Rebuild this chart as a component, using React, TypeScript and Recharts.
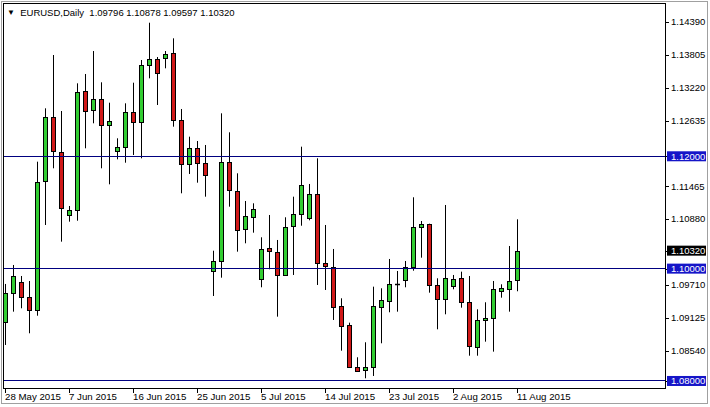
import { ComposedChart, Bar, XAxis, YAxis, ReferenceLine } from 'recharts'

const dates = [
  '28 May 2015', '29 May 2015', '31 May 2015', '1 Jun 2015', '2 Jun 2015', '3 Jun 2015', '4 Jun 2015', '5 Jun 2015',
  '7 Jun 2015', '8 Jun 2015', '9 Jun 2015', '10 Jun 2015', '11 Jun 2015', '12 Jun 2015', '14 Jun 2015', '15 Jun 2015',
  '16 Jun 2015', '17 Jun 2015', '18 Jun 2015', '19 Jun 2015', '21 Jun 2015', '22 Jun 2015', '23 Jun 2015', '24 Jun 2015',
  '25 Jun 2015', '26 Jun 2015', '28 Jun 2015', '29 Jun 2015', '30 Jun 2015', '1 Jul 2015', '2 Jul 2015', '3 Jul 2015',
  '5 Jul 2015', '6 Jul 2015', '7 Jul 2015', '8 Jul 2015', '9 Jul 2015', '10 Jul 2015', '12 Jul 2015', '13 Jul 2015',
  '14 Jul 2015', '15 Jul 2015', '16 Jul 2015', '17 Jul 2015', '19 Jul 2015', '20 Jul 2015', '21 Jul 2015', '22 Jul 2015',
  '23 Jul 2015', '24 Jul 2015', '26 Jul 2015', '27 Jul 2015', '28 Jul 2015', '29 Jul 2015', '30 Jul 2015', '31 Jul 2015',
  '2 Aug 2015', '3 Aug 2015', '4 Aug 2015', '5 Aug 2015', '6 Aug 2015', '7 Aug 2015', '9 Aug 2015', '10 Aug 2015',
  '11 Aug 2015',
]

const opens = [
  1.09045, 1.09561, 1.09757, 1.0949, 1.09264, 1.11548, 1.12694, 1.12082, 1.10955, 1.11044, 1.13167, 1.12811, 1.13014,
  1.12569, 1.12082, 1.1216, 1.12783, 1.12605, 1.1362, 1.13726, 1.13744, 1.13833, 1.12646, 1.11857, 1.12142, 1.11875,
  1.09963, 1.10124, 1.11893, 1.11387, 1.107, 1.10914, 1.0981, 1.10362, 1.10302, 1.09899, 1.10747, 1.10967, 1.10896,
  1.11329, 1.10106, 1.10035, 1.09335, 1.08997, 1.08255, 1.08183, 1.08244, 1.09323, 1.0943, 1.0973, 1.09798, 1.10024,
  1.10736, 1.10789, 1.09709, 1.09454, 1.09691, 1.09828, 1.09401, 1.08611, 1.09073, 1.09116, 1.09602, 1.0965, 1.09796,
]
const highs = [
  1.09727, 1.10065, 1.09869, 1.0978, 1.11904, 1.12854, 1.13803, 1.12806, 1.11115, 1.13299, 1.13465, 1.13874, 1.13317,
  1.12954, 1.1232, 1.12943, 1.1331, 1.13714, 1.14378, 1.13767, 1.13874, 1.141, 1.12842, 1.12349, 1.12272, 1.12201,
  1.10319, 1.12765, 1.12427, 1.11697, 1.11204, 1.11163, 1.10558, 1.10955, 1.1051, 1.10914, 1.11281, 1.12171, 1.11507,
  1.11964, 1.10777, 1.1035, 1.09472, 1.09038, 1.08422, 1.08689, 1.09679, 1.0965, 1.10172, 1.09958, 1.10136, 1.1127,
  1.10848, 1.108, 1.09828, 1.11133, 1.09887, 1.09946, 1.09869, 1.09276, 1.09401, 1.0978, 1.09721, 1.10403, 1.10878,
]
const lows = [
  1.08641, 1.09234, 1.09294, 1.08849, 1.09162, 1.10777, 1.11786, 1.1048, 1.10836, 1.10853, 1.12142, 1.12587, 1.11786,
  1.11501, 1.11946, 1.11886, 1.12023, 1.11964, 1.13388, 1.12913, 1.13566, 1.12527, 1.11341, 1.11685, 1.1153, 1.11281,
  1.09513, 1.09839, 1.11103, 1.10302, 1.10451, 1.1064, 1.09668, 1.09988, 1.09145, 1.09887, 1.09887, 1.10764, 1.1086,
  1.09709, 1.0962, 1.09086, 1.08539, 1.0824, 1.0817, 1.08048, 1.08089, 1.08671, 1.09223, 1.09234, 1.09668, 1.09963,
  1.10195, 1.09572, 1.0892, 1.09187, 1.09632, 1.09305, 1.0845, 1.0845, 1.087, 1.08522, 1.09483, 1.09234, 1.09597,
]
const closes = [
  1.09561, 1.09869, 1.0949, 1.09264, 1.11548, 1.12694, 1.12082, 1.11092, 1.11044, 1.1315, 1.12811, 1.13014, 1.12557,
  1.12633, 1.1216, 1.12783, 1.12605, 1.1362, 1.13726, 1.13477, 1.13821, 1.12646, 1.11857, 1.12142, 1.11875, 1.11654,
  1.10136, 1.11893, 1.11387, 1.107, 1.10937, 1.11056, 1.10344, 1.10302, 1.09899, 1.10747, 1.10967, 1.11489, 1.11329,
  1.10095, 1.10047, 1.09323, 1.08984, 1.08255, 1.08183, 1.08244, 1.09335, 1.09442, 1.09727, 1.0973, 1.10024, 1.10736,
  1.10789, 1.09709, 1.09454, 1.09828, 1.0981, 1.09401, 1.08611, 1.09086, 1.09116, 1.09632, 1.0965, 1.09785, 1.1032,
]

const tickDates = ['28 May 2015', '7 Jun 2015', '16 Jun 2015', '25 Jun 2015', '5 Jul 2015', '14 Jul 2015', '23 Jul 2015', '2 Aug 2015', '11 Aug 2015']
const priceTicks = [1.0854, 1.09125, 1.0971, 1.1088, 1.11465, 1.12635, 1.1322, 1.13805, 1.1439]
const levels = [1.12, 1.1, 1.08]
const lastPrice = 1.1032
const emptySlots = 18

const FONT = '"Liberation Sans", Arial, sans-serif'
const LINE = '#000080'
const BOX = '#1515c8'

const data = [
  ...dates.map((date, i) => ({ date, open: opens[i], high: highs[i], low: lows[i], close: closes[i] })),
  ...Array.from({ length: emptySlots }, (_, k) => ({ date: `slot${k}` })),
]

function Candle(props: any) {
  const { x, y, width, height, payload } = props
  if (payload.high == null) return null
  const { open, close, high, low } = payload
  const k = height / (high - low)
  const cx = Math.floor(x + width / 2) + 0.5
  const yo = y + (high - open) * k
  const yc = y + (high - close) * k
  const top = Math.min(yo, yc)
  const h = Math.abs(yo - yc)
  const up = close > open
  return (
    <g>
      <line x1={cx} x2={cx} y1={y} y2={y + height} stroke="#000" strokeWidth={1} />
      {h < 1.5 ? (
        <line x1={cx - 2.5} x2={cx + 2.5} y1={Math.round(top) + 0.5} y2={Math.round(top) + 0.5} stroke="#000" strokeWidth={1.5} />
      ) : (
        <rect x={cx - 2} y={Math.round(top) + 0.5} width={4} height={Math.round(h)} fill={up ? '#32cd32' : '#d01818'} stroke="#000" strokeWidth={1} />
      )}
    </g>
  )
}

function DateTick(props: any) {
  const { x, y, payload } = props
  if (!tickDates.includes(payload.value)) return null
  const px = Math.floor(x) + 0.5
  return (
    <g>
      <line x1={px} x2={px} y1={y + 1} y2={y + 5} stroke="#000" />
      <text x={px - 0.5} y={y + 11.5} fontSize={9.7} fontFamily={FONT} fill="#000">
        {payload.value}
      </text>
    </g>
  )
}

function PriceTick(props: any) {
  const { x, y, payload } = props
  const v = payload.value
  const isLast = v === lastPrice
  const isLevel = levels.includes(v)
  const ty = y + 3.3
  return (
    <g>
      <line x1={x} x2={x + 4} y1={Math.round(y) + 0.5} y2={Math.round(y) + 0.5} stroke="#000" />
      {(isLast || isLevel) && <rect x={x + 2} y={y - 5} width={39} height={10} fill={isLast ? '#000' : BOX} />}
      <text x={x + 6} y={ty} fontSize={9.5} fontFamily={FONT} fill={isLast || isLevel ? '#fff' : '#000'}>
        {v.toFixed(5)}
      </text>
    </g>
  )
}

export default function App() {
  return (
    <div style={{ position: 'absolute', left: 0, top: 0, width: 710, height: 407, background: '#fff', overflow: 'hidden' }}>
      <ComposedChart width={710} height={407} data={data} margin={{ top: 4, right: 0, bottom: 0, left: 1 }} barCategoryGap={0}>
        <XAxis dataKey="date" interval={0} tick={<DateTick />} tickLine={false} axisLine={false} tickSize={0} tickMargin={0} height={19} />
        <YAxis
          orientation="right"
          width={45}
          domain={[1.07875, 1.14711]}
          allowDataOverflow
          ticks={[...priceTicks, ...levels, lastPrice]}
          interval={0}
          tick={<PriceTick />}
          tickLine={false}
          axisLine={false}
          tickSize={0}
          tickMargin={0}
        />
        {levels.map((v) => (
          <ReferenceLine key={v} y={v} stroke={LINE} strokeWidth={1} shapeRendering="crispEdges" ifOverflow="visible" />
        ))}
        <Bar dataKey={(d: any) => (d.high != null ? [d.low, d.high] : null)} shape={<Candle />} isAnimationActive={false} />
      </ComposedChart>
      <div style={{ position: 'absolute', left: 0, top: 0, width: 3, height: 390, background: '#fff' }} />
      <div style={{ position: 'absolute', left: 1, top: 1, width: 705, height: 401, border: '1px solid #a0a0a0', pointerEvents: 'none' }} />
      <div style={{ position: 'absolute', left: 3, top: 3, width: 661, height: 384, border: '1px solid #000', pointerEvents: 'none' }} />
      <div style={{ position: 'absolute', left: 7, top: 6, fontFamily: FONT, fontSize: 9.5, color: '#000', whiteSpace: 'pre', lineHeight: '13px' }}>
        <span style={{ fontSize: 8, verticalAlign: 1 }}>▼</span>
        <span>{'  EURUSD,Daily  1.09796 1.10878 1.09597 1.10320'}</span>
      </div>
    </div>
  )
}
